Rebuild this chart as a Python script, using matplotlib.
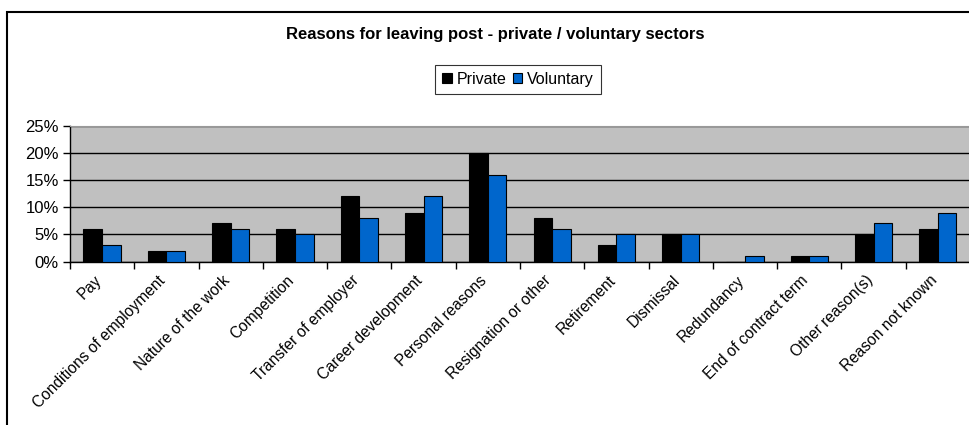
import matplotlib.pyplot as plt
import numpy as np
from matplotlib.patches import Rectangle
from matplotlib.ticker import FixedLocator, PercentFormatter

plt.rcParams['font.family'] = ['Liberation Sans', 'DejaVu Sans']

# ---------- data ----------
categories = ['Pay', 'Conditions of employment', 'Nature of the work', 'Competition',
              'Transfer of employer', 'Career development', 'Personal reasons',
              'Resignation or other', 'Retirement', 'Dismissal', 'Redundancy',
              'End of contract term', 'Other reason(s)', 'Reason not known']
private = [6, 2, 7, 6, 12, 9, 20, 8, 3, 5, 0, 1, 5, 6]
voluntary = [3, 2, 6, 5, 8, 12, 16, 6, 5, 5, 1, 1, 7, 9]
y_ticks = [0, 5, 10, 15, 20, 25]

# ---------- plot ----------
fig = plt.figure(figsize=(9.7, 4.25), dpi=100)
ax = fig.add_axes([70 / 970, 1 - 261.5 / 425, 900 / 970, 135.8 / 425])
ax.set_facecolor('#C0C0C0')

x = np.arange(len(categories))
w = 0.29
ax.bar(x - w / 2, private, w, color='black', edgecolor='black', linewidth=0.8,
       label='Private', zorder=3)
ax.bar(x + w / 2, voluntary, w, color='#0066CC', edgecolor='black', linewidth=0.8,
       label='Voluntary', zorder=3)

ax.set_xlim(-0.5, len(categories) - 0.5)
ax.set_ylim(0, 25)
ax.set_yticks(y_ticks)
ax.yaxis.set_major_formatter(PercentFormatter(decimals=0))
ax.yaxis.grid(True, color='black', linewidth=1)
ax.set_axisbelow(True)

ax.set_xticks(x - 0.05)
ax.set_xticklabels(categories, rotation=45, ha='right', va='center',
                   rotation_mode='anchor', fontsize=11.2)
ax.xaxis.set_minor_locator(FixedLocator(np.arange(-0.5, len(categories), 1)))
ax.tick_params(axis='x', which='major', length=0, pad=12)
ax.tick_params(axis='x', which='minor', length=5, width=1)
ax.tick_params(axis='y', length=5, width=1, labelsize=12, pad=3)

ax.spines['right'].set_visible(False)
ax.spines['top'].set_color('#999999')
ax.spines['left'].set_linewidth(1)
ax.spines['bottom'].set_linewidth(1)

fig.text(495 / 970, 1 - 35 / 425, 'Reasons for leaving post - private / voluntary sectors',
         ha='center', va='center', fontsize=12, fontweight='bold')

leg = fig.legend(loc='center', bbox_to_anchor=(518 / 970, 1 - 79.5 / 425), ncol=2,
                 frameon=True, fancybox=False, edgecolor='black', fontsize=11.5,
                 handlelength=0.6, handleheight=0.6, handletextpad=0.3,
                 columnspacing=0.4, borderpad=0.45, borderaxespad=0)
leg.get_frame().set_linewidth(0.8)

# chart border
fig.patches.append(Rectangle((7 / 970, -0.1), 1.1, 1.1 - 12 / 425, transform=fig.transFigure,
                             fill=False, edgecolor='black', linewidth=1.5))

fig.savefig('out.png', dpi=100)
